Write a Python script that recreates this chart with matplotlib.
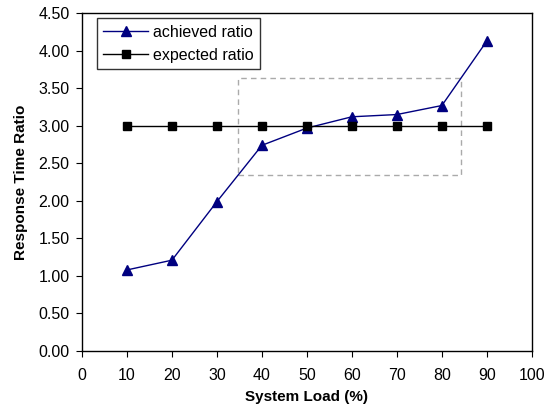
import matplotlib
matplotlib.use("Agg")
import matplotlib.pyplot as plt
import matplotlib.patches as patches

plt.rcParams['font.family'] = ['Liberation Sans', 'DejaVu Sans']

# data
load = [10, 20, 30, 40, 50, 60, 70, 80, 90]
achieved = [1.08, 1.21, 1.99, 2.74, 2.97, 3.12, 3.15, 3.27, 4.13]
expected = [3.00, 3.00, 3.00, 3.00, 3.00, 3.00, 3.00, 3.00, 3.00]
x_ticks = list(range(0, 101, 10))
y_ticks = [0.0, 0.5, 1.0, 1.5, 2.0, 2.5, 3.0, 3.5, 4.0, 4.5]

# dashed highlight box (data coords)
box_x = [34.7, 84.2]
box_y = [2.35, 3.63]

fig = plt.figure(figsize=(5.5, 4.12), dpi=100)
ax = fig.add_axes([0.149, 0.148, 0.818, 0.820])

ax.plot(load, achieved, color='#000080', marker='^', markersize=7, lw=1.0,
        label='achieved ratio')
ax.plot(load, expected, color='black', marker='s', markersize=6, lw=1.0,
        label='expected ratio')

rect = patches.Rectangle((box_x[0], box_y[0]), box_x[1] - box_x[0], box_y[1] - box_y[0],
                         fill=False, edgecolor='#aaaaaa', linestyle=(0, (4, 3)), lw=1.0)
ax.add_patch(rect)

ax.set_xlim(0, 100)
ax.set_ylim(0, 4.5)
ax.set_xticks(x_ticks)
ax.set_yticks(y_ticks)
ax.set_yticklabels(['%.2f' % v for v in y_ticks])
ax.tick_params(direction='out', length=4, labelsize=11.5, color='black')
ax.tick_params(axis='x', pad=8)
ax.tick_params(axis='y', pad=5)

ax.set_xlabel('System Load (%)', fontsize=11, fontweight='bold', labelpad=5)
ax.set_ylabel('Response Time Ratio', fontsize=11, fontweight='bold', labelpad=7)

for s in ax.spines.values():
    s.set_linewidth(1.0)
    s.set_color('black')

leg = ax.legend(loc='upper left', bbox_to_anchor=(0.033, 0.985), fontsize=11.5,
                frameon=True, fancybox=False, edgecolor='black', handlelength=2.8,
                handletextpad=0.3, borderaxespad=0.0, labelspacing=0.5)
leg.get_frame().set_linewidth(1.0)

fig.savefig('out.png', dpi=100)
